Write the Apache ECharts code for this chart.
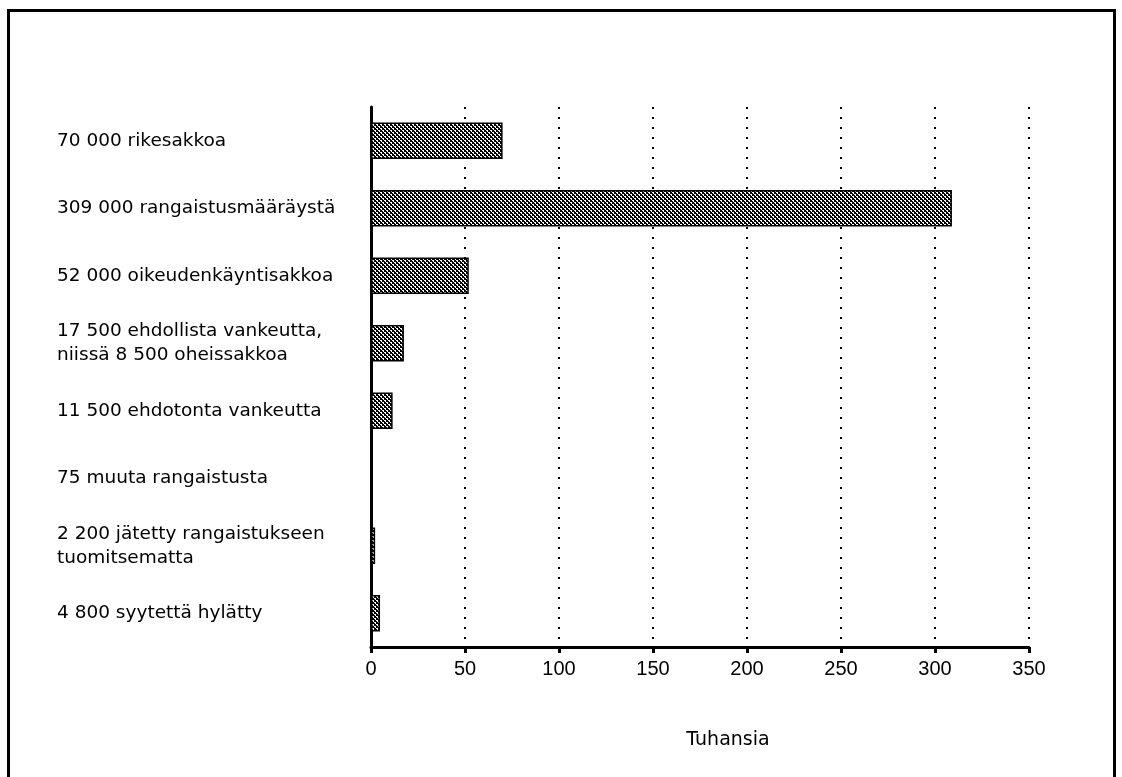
<!DOCTYPE html>
<html>
<head>
<meta charset="utf-8">
<script src="https://cdn.jsdelivr.net/npm/echarts@6/dist/echarts.min.js"></script>
<style>
  html, body { margin: 0; padding: 0; background: #fff; }
  #chart { width: 1122px; height: 777px; }
</style>
</head>
<body>
<div id="chart"></div>
<script>
// categories, top to bottom
var categories = [
  '70 000 rikesakkoa',
  '309 000 rangaistusmääräystä',
  '52 000 oikeudenkäyntisakkoa',
  '17 500 ehdollista vankeutta,\nniissä 8 500 oheissakkoa',
  '11 500 ehdotonta vankeutta',
  '75 muuta rangaistusta',
  '2 200 jätetty rangaistukseen\ntuomitsematta',
  '4 800 syytettä hylätty'
];
// values in thousands
var values = [70, 309, 52, 17.5, 11.5, 0.075, 2.2, 4.8];
var xTicks = [0, 50, 100, 150, 200, 250, 300, 350];

// halftone fill for the bars
var pat = document.createElement('canvas');
pat.width = 4; pat.height = 4;
var pc = pat.getContext('2d');
pc.fillStyle = '#000';
pc.fillRect(0, 0, 4, 4);
pc.fillStyle = '#fff';
pc.fillRect(0, 0, 2, 1);
pc.fillRect(2, 2, 2, 1);
pc.fillRect(1, 1, 1, 1);
pc.fillRect(3, 3, 1, 1);

var labelFont = 'DejaVu Sans, sans-serif';
var tickFont = 'Liberation Sans, Arial, sans-serif';

var myChart = echarts.init(document.getElementById('chart'));

var option = {
  animation: false,
  backgroundColor: '#fff',
  grid: { left: 371, right: 93, top: 107, bottom: 130 },

  // outer frame
  graphic: [{
    type: 'rect',
    shape: { x: 8.5, y: 10.5, width: 1106, height: 800 },
    style: { fill: 'none', stroke: '#000', lineWidth: 3 },
    silent: true
  }],

  xAxis: {
    type: 'value',
    min: 0,
    max: 350,
    interval: 50,
    name: 'Tuhansia',
    nameLocation: 'middle',
    nameGap: 84,
    nameTextStyle: {
      color: '#000', fontSize: 19, fontFamily: labelFont,
      padding: [0, 0, 0, 56]
    },
    axisLine: { show: true, lineStyle: { color: '#000', width: 3 } },
    axisTick: { show: true, length: 6, lineStyle: { color: '#000', width: 3 } },
    axisLabel: {
      color: '#000', fontSize: 20, fontFamily: tickFont, margin: 12,
      formatter: function (v) { return xTicks.indexOf(v) >= 0 ? String(v) : ''; }
    },
    splitLine: {
      show: true,
      lineStyle: { color: '#000', width: 2, type: [2, 8] }
    }
  },

  yAxis: {
    type: 'category',
    inverse: true,
    data: categories,
    axisLine: { show: true, lineStyle: { color: '#000', width: 3 } },
    axisTick: { show: false },
    axisLabel: {
      color: '#000', fontSize: 18.5, fontFamily: labelFont,
      align: 'left', margin: 314, lineHeight: 24
    }
  },

  series: [{
    type: 'bar',
    data: values,
    barCategoryGap: '46%',
    itemStyle: {
      color: { image: pat, repeat: 'repeat' },
      borderColor: '#000',
      borderWidth: 1.5
    }
  }]
};

myChart.setOption(option);
</script>
</body>
</html>
